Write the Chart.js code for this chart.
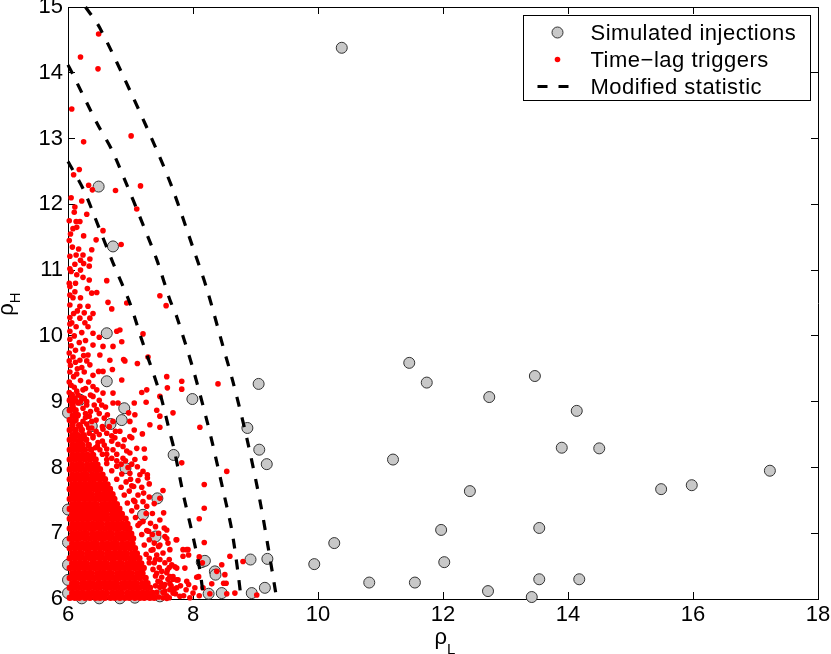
<!DOCTYPE html>
<html>
<head>
<meta charset="utf-8">
<script src="https://cdn.jsdelivr.net/npm/chart.js@4.4.1/dist/chart.umd.min.js"></script>
<style>
  html, body { margin: 0; padding: 0; background: #fff; }
  canvas { display: block; }
</style>
</head>
<body>
<canvas id="graficoRho" width="831" height="654"></canvas>
<script>
const xTicks = [6, 8, 10, 12, 14, 16, 18];
const yTicks = [6, 7, 8, 9, 10, 11, 12, 13, 14, 15];
const legendLabels = ['Simulated injections', 'Time\u2212lag triggers', 'Modified statistic'];

// simulated injections (rho_L, rho_H)
const injections = [
  [10.38,14.38],[11.46,9.59],[11.74,9.29],[12.74,9.07],[13.47,9.39],[14.14,8.86],[13.90,8.30],[14.50,8.29],
  [11.20,8.12],[12.43,7.64],[15.49,7.67],[15.98,7.73],[17.23,7.95],[11.97,7.05],[13.54,7.08],[10.26,6.85],
  [9.94,6.53],[12.02,6.56],[10.82,6.25],[11.55,6.25],[12.72,6.12],[13.42,6.03],[13.54,6.30],[14.18,6.30],
  [6.49,12.27],[6.72,11.36],[6.62,10.04],[6.62,9.31],[7.99,9.04],[9.05,9.27],[6.19,9.03],[6.90,8.90],
  [6.86,8.72],[6.68,8.66],[6.38,8.63],[6.00,8.83],[8.87,8.60],[9.06,8.27],[9.18,8.05],[7.69,8.19],
  [6.92,7.99],[6.40,7.99],[7.43,7.53],[7.20,7.28],[7.40,6.95],[6.00,7.36],[6.00,6.86],[6.00,6.52],
  [6.00,6.29],[6.00,6.09],[6.22,6.01],[6.50,6.01],[6.83,6.01],[7.07,6.02],[7.47,6.04],
  [8.14,6.56],[8.19,6.58],[8.35,6.42],[8.36,6.37],[8.92,6.60],[9.19,6.61],[9.15,6.17],[8.94,6.09],
  [8.46,6.09],[8.25,6.08]
];

// time-lag triggers, dense part read row by row: [rho_H, [rho_L ...]]
const triggerRows = [
  [6.02, [6.03,6.11,6.18,6.27,6.35,6.44,6.51,6.59,6.68,6.75,6.83,6.91,6.98,7.07,7.15,7.22,7.31,7.38]],
  [6.09, [6.07,6.15,6.23,6.32,6.39,6.47,6.55,6.62,6.71,6.79,6.86,6.95,7.03,7.11,7.19,7.27,7.35]],
  [6.17, [6.03,6.11,6.19,6.27,6.34,6.43,6.51,6.60,6.67,6.75,6.83,6.90,6.99,7.07,7.14,7.23,7.31]],
  [6.24, [6.07,6.14,6.23,6.31,6.39,6.48,6.55,6.63,6.71,6.78,6.87,6.95,7.03,7.10,7.19,7.27]],
  [6.32, [6.03,6.11,6.19,6.26,6.35,6.43,6.50,6.59,6.67,6.75,6.82,6.91,6.99,7.07,7.15,7.24]],
  [6.39, [6.07,6.15,6.23,6.31,6.38,6.47,6.55,6.63,6.70,6.79,6.87,6.95,7.02,7.11,7.19]],
  [6.47, [6.03,6.11,6.18,6.27,6.35,6.43,6.51,6.58,6.67,6.75,6.83,6.91,6.98,7.07,7.15,7.21]],
  [6.54, [6.07,6.15,6.23,6.30,6.39,6.47,6.55,6.62,6.71,6.79,6.86,6.95,7.03,7.11,7.17]],
  [6.62, [6.03,6.11,6.19,6.27,6.35,6.42,6.51,6.59,6.67,6.74,6.83,6.91,6.99,7.06,7.14]],
  [6.69, [6.07,6.15,6.22,6.31,6.39,6.47,6.54,6.63,6.71,6.79,6.87,6.94,7.03,7.10]],
  [6.77, [6.03,6.11,6.19,6.27,6.34,6.43,6.51,6.59,6.66,6.75,6.83,6.91,6.99,7.07]],
  [6.84, [6.07,6.15,6.23,6.31,6.39,6.46,6.55,6.63,6.71,6.78,6.87,6.95,7.03]],
  [6.92, [6.03,6.11,6.18,6.27,6.35,6.43,6.51,6.58,6.67,6.75,6.83,6.90,6.99,7.04]],
  [6.99, [6.07,6.15,6.23,6.30,6.39,6.47,6.55,6.63,6.70,6.79,6.87,6.95,7.01]],
  [7.07, [6.03,6.11,6.19,6.27,6.35,6.42,6.51,6.59,6.67,6.75,6.82,6.91,6.98]],
  [7.14, [6.07,6.15,6.23,6.31,6.39,6.47,6.54,6.63,6.71,6.79,6.87,6.95]],
  [7.22, [6.03,6.11,6.19,6.27,6.34,6.43,6.51,6.59,6.67,6.75,6.83,6.92]],
  [7.29, [6.07,6.15,6.23,6.31,6.39,6.47,6.55,6.62,6.71,6.79,6.86]],
  [7.37, [6.03,6.11,6.19,6.26,6.35,6.43,6.51,6.59,6.67,6.75,6.82]],
  [7.44, [6.07,6.15,6.23,6.31,6.39,6.46,6.55,6.63,6.71,6.78]],
  [7.52, [6.03,6.11,6.18,6.27,6.35,6.43,6.51,6.59,6.67,6.74]],
  [7.59, [6.07,6.15,6.23,6.31,6.38,6.47,6.55,6.63,6.71]],
  [7.67, [6.03,6.11,6.19,6.27,6.35,6.43,6.50,6.59,6.67]],
  [7.74, [6.07,6.15,6.23,6.31,6.39,6.47,6.55,6.63]],
  [7.82, [6.03,6.11,6.19,6.27,6.35,6.42,6.51,6.59]],
  [7.89, [6.07,6.15,6.23,6.30,6.39,6.47,6.55]],
  [7.97, [6.03,6.11,6.19,6.27,6.35,6.43,6.51]],
  [8.04, [6.07,6.15,6.22,6.31,6.39,6.47]],
  [8.12, [6.03,6.11,6.19,6.27,6.35,6.44]],
  [8.19, [6.07,6.15,6.23,6.31,6.40]],
  [8.27, [6.03,6.11,6.19,6.27,6.37]],
  [8.34, [6.07,6.15,6.23,6.33]],
  [8.42, [6.03,6.11,6.20,6.29]],
  [8.49, [6.07,6.16,6.25]],
  [8.57, [6.03,6.12,6.22]],
  [8.64, [6.07,6.18]],
  [8.72, [6.03,6.12]],
  [8.79, [6.08,6.15]],
  [8.87, [6.03,6.12]],
  [8.95, [6.07]],
  [9.02, [6.03,6.11]],
  [9.10, [6.06]]
];

// time-lag triggers, sparse part [rho_L, rho_H]
const triggerScatter = [
  [6.49,14.59],[6.20,14.24],[6.48,14.06],[6.06,13.45],[6.25,12.95],[7.01,13.04],[6.18,12.53],[6.09,12.45],
  [6.33,12.29],[6.39,12.22],[6.76,12.21],[7.16,12.28],[7.10,11.93],[6.11,11.96],[6.10,11.88],[6.02,11.75],
  [6.13,11.74],[6.19,11.74],[6.14,11.65],[6.56,11.60],[6.45,11.46],[6.02,11.45],[6.85,11.39],[6.17,11.32],
  [6.38,11.31],[6.03,11.21],[6.13,11.23],[6.24,11.23],[6.20,11.15],[6.11,11.09],[6.25,11.10],[6.35,11.17],
  [6.34,11.06],[6.14,10.93],[6.24,10.89],[6.34,10.85],[6.62,10.84],[6.02,10.80],[6.03,10.75],[6.11,10.67],
  [6.31,10.72],[6.38,10.65],[6.46,10.66],[6.64,10.51],[6.70,10.41],[6.94,10.50],[7.47,10.61],[7.57,10.46],
  [6.03,10.47],[6.19,10.45],[6.32,10.45],[6.09,10.34],[6.40,10.34],[6.19,10.27],[6.35,10.27],[6.13,10.14],
  [6.32,10.14],[6.03,10.07],[6.40,10.04],[6.50,9.98],[6.78,10.07],[6.83,10.09],[7.20,10.03],[6.72,9.84],
  [6.86,9.91],[6.04,11.55],[6.07,11.35],[6.05,10.98],[6.08,10.58],[6.06,10.20],
  [6.02,9.14],[6.10,9.22],[6.02,9.30],[6.14,9.42],[6.03,9.45],[6.22,9.52],[6.02,9.62],[6.12,9.60],
  [6.25,9.70],[6.02,9.74],[6.18,9.90],[6.03,9.95],[6.28,9.93],[6.10,10.00],[6.22,10.05],[6.03,10.18],
  [6.27,10.20],[6.15,10.38],[6.03,10.28],[6.26,10.35],[6.03,10.62],[6.20,10.58],[6.12,10.80],[6.20,11.00],
  [6.03,11.02],[6.08,11.63],[6.25,11.52],[6.30,11.85],[6.05,12.10],[6.22,12.05],
  [6.40,9.86],[6.56,9.84],[6.32,9.71],[6.51,9.71],[6.67,9.63],[6.19,9.63],[6.35,9.56],[6.49,9.46],
  [6.56,9.46],[6.71,9.49],[6.56,9.13],[6.72,9.13],[6.40,9.23],[6.72,8.98],[6.80,8.98],[7.06,8.98],
  [6.97,8.83],[6.99,8.70],[6.83,8.55],[6.99,8.47],[6.75,8.45],[6.88,8.32],[6.72,8.27],[6.99,8.22],
  [6.88,8.14],[7.07,8.12],[6.62,8.12],[6.51,8.27],[6.86,9.33],[7.11,9.58],[7.28,9.68],[6.91,9.62],
  [7.58,9.38],[7.82,9.31],[7.59,9.21],[7.82,9.19],[8.40,9.27],[7.26,9.18],[7.18,9.14],[7.25,8.99],
  [7.42,8.87],[7.47,8.78],[7.68,8.83],[7.31,8.65],[7.47,8.61],[8.11,8.61],[7.06,8.57],[7.07,8.80],
  [7.02,8.45],[7.10,8.29],[7.22,8.28],[7.23,8.14],[7.82,8.07],[8.54,7.94],[7.20,7.94],[7.27,7.89],
  [7.11,8.01],[6.89,9.64],[7.47,9.08],[7.19,8.51],
  [6.05,9.85],[6.12,9.78],[6.24,9.80],[6.08,9.68],[6.30,9.62],[6.04,9.55],[6.15,9.50],[6.26,9.45],
  [6.40,9.40],[6.09,9.38],[6.20,9.32],[6.33,9.30],[6.05,9.25],[6.28,9.20],[6.46,9.18],[6.14,9.16],
  [6.36,9.10],[6.22,9.06],[6.50,9.02],[6.30,9.00],[6.42,8.95],[6.60,8.92],[6.36,8.85],[6.50,8.82],
  [6.28,8.82],[6.58,8.75],[6.45,8.72],[6.30,8.66],[6.55,8.62],[6.62,8.52],[6.40,8.48],[6.70,8.40],
  [6.48,8.38],[6.58,8.34],[6.78,8.20],[6.62,8.20],[6.85,8.05],[6.92,8.10],
  [6.10,8.30],[6.18,8.38],[6.26,8.45],[6.12,8.53],[6.34,8.52],[6.20,8.62],[6.08,8.68],[6.24,8.70],
  [6.16,8.80],[6.34,8.78],[6.08,8.92],[6.16,8.98],[6.26,9.05],[6.40,9.08],[6.10,9.05],[6.46,8.88],
  [6.54,8.95],[6.38,8.60],[6.50,8.50],[6.44,8.30],[6.56,8.58],[6.66,8.62],[6.63,8.80],[6.72,8.70],
  [6.76,8.55],[6.70,8.48],[6.80,8.35],[6.90,8.42],[6.94,8.25],[6.78,8.10],[6.96,8.00],[7.02,8.05],
  [7.45,6.03],[7.52,6.10],[7.47,6.18],[7.58,6.05],[7.44,6.27],[7.55,6.22],[7.63,6.14],[7.40,6.35],
  [7.50,6.33],[7.36,6.45],[7.46,6.48],[7.58,6.40],[7.30,6.55],[7.40,6.60],[7.68,6.30],[7.72,6.08],
  [7.80,6.20],[7.66,6.52],[7.25,6.68],[7.33,6.74],[7.22,6.82],[7.30,6.90],[7.45,6.80],[7.18,6.98],
  [7.26,7.04],[7.12,7.12],[7.20,7.18],[7.08,7.24],[7.32,7.15],[7.02,7.34],[7.10,7.40],[6.95,7.46],
  [7.05,7.50],[6.90,7.58],[6.98,7.64],[6.85,7.70],[6.93,7.78],[6.78,7.82],[6.86,7.90],[7.02,7.72],
  [6.70,7.95],[6.78,8.02],[6.62,8.06],[6.70,8.14],[6.55,8.20],[6.62,8.28],[6.47,8.32],[6.55,8.40],
  [6.40,8.45],[6.45,8.55],[6.33,8.60],[6.38,8.70],[6.28,8.76],[6.24,8.90],[6.20,9.00],[6.30,8.95],
  [6.16,9.10],[6.24,9.18],
  [7.12,7.80],[7.00,7.82],[7.18,7.70],[7.30,7.75],[7.12,7.58],[7.30,7.55],[7.38,7.45],[7.20,7.48],
  [7.35,7.30],[7.25,7.30],[7.40,7.10],[7.45,7.00],[7.35,6.98],[7.55,6.95],[7.38,6.85],[7.52,6.70],
  [7.60,6.85],[7.30,6.62],[7.55,6.55],[7.50,6.42],[7.62,6.48],[7.48,6.25],[7.60,6.30],[7.65,6.20],
  [7.55,6.12],[7.70,6.15],[7.52,6.02],[7.85,6.05],[7.62,6.02],[7.95,6.02],[8.10,6.05],[7.40,6.20],
  [7.42,6.10],[7.38,6.55],
  [8.18,7.74],[8.18,7.38],[8.10,7.22],[8.18,6.86],[7.52,7.65],[7.47,7.53],[7.53,7.31],[7.54,7.08],
  [7.58,6.92],[7.73,6.90],[7.90,6.75],[7.93,6.67],[7.84,6.65],[8.59,6.65],[8.80,6.57],[8.46,6.52],
  [8.38,6.42],[8.09,6.34],[8.30,6.23],[8.51,6.37],[8.49,6.24],[8.54,6.08],[9.02,6.06],[8.27,6.08],
  [8.00,6.09],[7.89,6.14],[7.74,6.17],[7.63,6.24],[7.68,6.34],[7.76,6.29],[7.59,6.44],[7.74,6.47],
  [7.62,6.60],[7.42,6.67],[7.47,6.82],[8.10,6.64],[8.15,6.55],[8.06,6.33],[8.53,6.24],[8.16,6.17],
  [8.03,6.17],[8.67,6.09],[7.84,6.75],[7.92,6.75],[7.87,6.47],[7.90,6.27],
  [6.99,7.91],[7.15,7.89],[7.27,7.84],[7.05,7.71],[7.21,7.61],[7.07,7.48],[7.26,7.41],[7.15,7.15],
  [7.47,7.20],[7.58,7.05],[7.29,7.03],[7.74,6.90],[7.63,6.75],[7.36,6.75],[7.47,6.60],[7.71,6.49],
  [7.42,6.39],[7.63,6.34],[7.74,6.29],[7.53,6.19],[7.93,6.22],[7.68,6.09],[7.79,6.04],[7.58,6.01]
];

// modified statistic contours
const curveInner = [[6.00,12.65],[6.25,12.22],[6.51,11.61],[6.72,11.11],[6.99,10.50],[7.18,9.94],[7.47,9.13],
  [7.63,8.53],[7.70,8.27],[7.84,7.61],[8.00,6.95],[8.11,6.44],[8.17,6.00]];
const curveMiddle = [[6.00,14.12],[6.06,14.01],[6.46,13.24],[6.70,12.83],[6.94,12.30],[7.15,11.81],[7.42,11.16],
  [7.63,10.55],[7.74,10.29],[8.00,9.50],[8.22,8.72],[8.32,8.33],[8.48,7.66],[8.62,7.05],[8.72,6.40],[8.77,6.00]];
const curveOuter = [[6.28,15.00],[6.51,14.68],[7.04,13.63],[7.44,12.78],[7.68,12.22],[8.00,11.34],[8.22,10.72],
  [8.48,9.84],[8.64,9.30],[8.86,8.45],[9.07,7.50],[9.20,6.80],[9.34,6.00]];

const FONT = "'Liberation Sans', Arial, Helvetica, sans-serif";
Chart.defaults.font.family = FONT;
Chart.defaults.font.size = 22;
Chart.defaults.color = '#000';

const toPts = arr => arr.map(p => ({ x: p[0], y: p[1] }));
const triggerPts = [];
triggerRows.forEach(([y, xs]) => xs.forEach(x => triggerPts.push({ x: x, y: y })));
const coreCount = triggerPts.length;
triggerScatter.forEach(p => triggerPts.push({ x: p[0], y: p[1] }));

const GRAY = '#c8c8c8';
const RED = '#ff0000';
const DASH = [10, 11];

const curve = pts => ({
  data: toPts(pts), showLine: true, pointRadius: 0, borderColor: '#000', borderWidth: 3.2,
  borderDash: DASH, borderCapStyle: 'butt', tension: 0.3, fill: false, clip: false, order: 0
});

// legend box drawn in the top-right corner, matlab style
const legendBox = {
  id: 'legendBox',
  afterDraw(chart) {
    const { ctx, chartArea: a } = chart;
    const right = a.right - 7.5, top = a.top + 8.5, w = 287, h = 85;
    const left = right - w;
    ctx.save();
    ctx.fillStyle = '#fff';
    ctx.fillRect(left, top, w, h);
    ctx.strokeStyle = '#000';
    ctx.lineWidth = 1;
    ctx.strokeRect(left, top, w, h);
    const mx = left + 34;
    const rows = [top + 17, top + 44, top + 71];
    // injection marker
    ctx.beginPath(); ctx.arc(mx, rows[0], 5.5, 0, Math.PI * 2);
    ctx.fillStyle = GRAY; ctx.fill(); ctx.strokeStyle = '#333'; ctx.stroke();
    // trigger marker
    ctx.beginPath(); ctx.arc(mx, rows[1], 2.8, 0, Math.PI * 2);
    ctx.fillStyle = RED; ctx.fill();
    // dashed sample
    ctx.beginPath(); ctx.setLineDash(DASH); ctx.lineWidth = 3.2; ctx.strokeStyle = '#000';
    ctx.moveTo(mx - 20, rows[2]); ctx.lineTo(mx + 11, rows[2]); ctx.stroke();
    ctx.setLineDash([]);
    ctx.fillStyle = '#000';
    ctx.font = '22px ' + FONT;
    ctx.letterSpacing = '0.5px';
    ctx.textBaseline = 'alphabetic';
    ctx.textAlign = 'left';
    legendLabels.forEach((t, i) => ctx.fillText(t, left + 67, rows[i] + 7.5));
    ctx.restore();
  }
};

// axis titles with subscripts
const axisTitles = {
  id: 'axisTitles',
  afterDraw(chart) {
    const { ctx, chartArea: a } = chart;
    const big = '22px ' + FONT, small = '15px ' + FONT;
    ctx.save();
    ctx.fillStyle = '#000';
    ctx.textBaseline = 'alphabetic';
    ctx.textAlign = 'left';
    ctx.font = big; const wr = ctx.measureText('\u03c1').width;
    ctx.font = small; const wl = ctx.measureText('L').width; const wh = ctx.measureText('H').width;
    // x title
    const x0 = (a.left + a.right) / 2 + 2 - (wr + wl) / 2;
    ctx.font = big; ctx.fillText('\u03c1', x0, a.bottom + 44.5);
    ctx.font = small; ctx.fillText('L', x0 + wr, a.bottom + 54.5);
    // y title
    ctx.translate(13, (a.top + a.bottom) / 2 + 1);
    ctx.rotate(-Math.PI / 2);
    const y0 = -(wr + wh) / 2;
    ctx.font = big; ctx.fillText('\u03c1', y0, 0);
    ctx.font = small; ctx.fillText('H', y0 + wr, 7);
    ctx.restore();
  }
};

const gridOpts = { drawOnChartArea: false, tickLength: -7, color: '#000', lineWidth: 1 };
const borderOpts = { color: '#000', width: 1 };

new Chart(document.getElementById('graficoRho'), {
  type: 'scatter',
  data: {
    datasets: [
      curve(curveInner),
      curve(curveMiddle),
      curve(curveOuter),
      {
        label: legendLabels[1], data: triggerPts,
        pointRadius: c => (c.dataIndex < coreCount ? 3.3 : 2.8), pointBorderWidth: 0,
        pointBackgroundColor: RED, pointBorderColor: RED, clip: false, order: 1
      },
      {
        label: legendLabels[0], data: toPts(injections), pointRadius: 5.5, pointBorderWidth: 1,
        pointBackgroundColor: GRAY, pointBorderColor: '#333', clip: false, order: 2
      }
    ]
  },
  options: {
    responsive: false,
    animation: false,
    events: [],
    layout: { padding: 0 },
    plugins: { legend: { display: false }, tooltip: { enabled: false } },
    scales: {
      x: {
        type: 'linear', position: 'bottom', min: 6, max: 18,
        afterBuildTicks: s => { s.ticks = xTicks.map(v => ({ value: v })); },
        ticks: { padding: 10, color: '#000', maxRotation: 0 },
        grid: gridOpts, border: borderOpts,
        afterFit: s => { s.height = 55; s.paddingLeft = 0; s.paddingRight = 0; }
      },
      x2: {
        type: 'linear', position: 'top', min: 6, max: 18,
        afterBuildTicks: s => { s.ticks = xTicks.map(v => ({ value: v })); },
        ticks: { display: false },
        grid: gridOpts, border: borderOpts,
        afterFit: s => { s.height = 7; s.paddingLeft = 0; s.paddingRight = 0; }
      },
      y: {
        type: 'linear', position: 'left', min: 6, max: 15,
        afterBuildTicks: s => { s.ticks = yTicks.map(v => ({ value: v })); },
        ticks: { padding: 12, color: '#000' },
        grid: gridOpts, border: borderOpts,
        afterFit: s => { s.width = 68; s.paddingTop = 0; s.paddingBottom = 0; }
      },
      y2: {
        type: 'linear', position: 'right', min: 6, max: 15,
        afterBuildTicks: s => { s.ticks = yTicks.map(v => ({ value: v })); },
        ticks: { display: false },
        grid: gridOpts, border: borderOpts,
        afterFit: s => { s.width = 13; s.paddingTop = 0; s.paddingBottom = 0; }
      }
    }
  },
  plugins: [legendBox, axisTitles]
});
</script>
</body>
</html>
